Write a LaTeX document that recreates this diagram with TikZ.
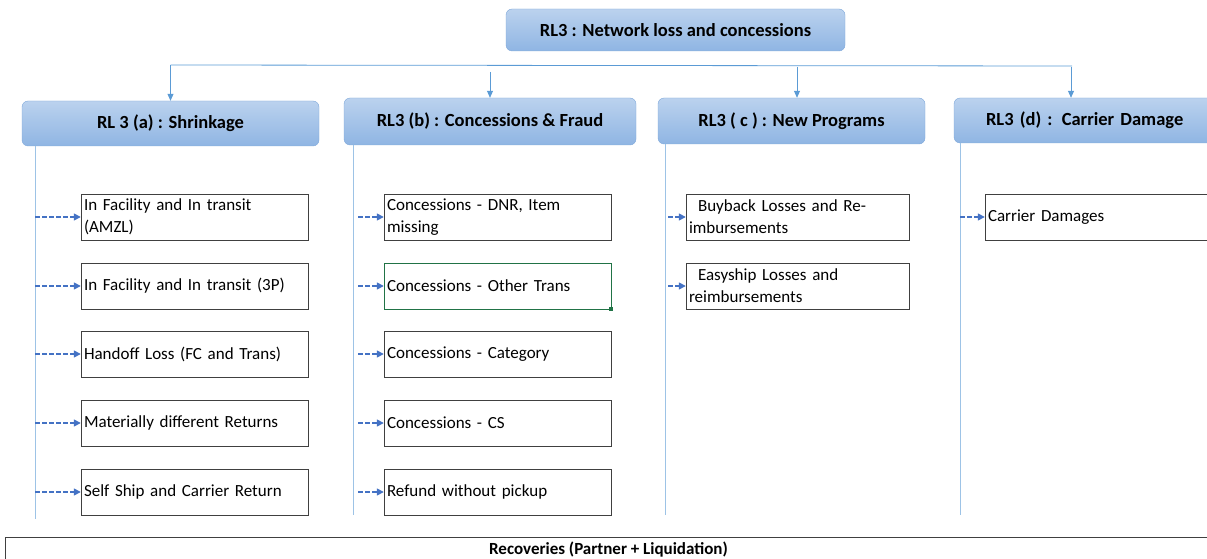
\documentclass[tikz,border=0pt]{standalone}
\usepackage{fontspec}
\setmainfont{Carlito}
\usetikzlibrary{arrows.meta}

\definecolor{headtop}{HTML}{BBD2EE}
\definecolor{headbot}{HTML}{8FB5E3}
\definecolor{headline}{HTML}{7FA8DA}
\definecolor{feedline}{HTML}{5B9BD5}
\definecolor{spineline}{HTML}{9DC3E6}
\definecolor{subline}{HTML}{4472C4}
\definecolor{leafline}{HTML}{404040}
\definecolor{pickline}{HTML}{217346}

\tikzset{
  head/.style={draw=headline, rounded corners=6pt, top color=headtop, bottom color=headbot,
    inner sep=0pt, font=\bfseries\fontsize{18.5}{20}\selectfont},
  leaf/.style={draw=leafline, fill=white, minimum height=46pt, inner xsep=3pt, inner ysep=0pt,
    align=left, font=\fontsize{17}{22}\selectfont},
  feed/.style={draw=feedline, line width=0.8pt, -{Triangle[length=7pt,width=6pt]}},
  spine/.style={draw=spineline, line width=0.9pt},
  sub/.style={draw=subline, line width=1.5pt, dash pattern=on 4.5pt off 2.5pt, -{Triangle[length=7pt,width=7pt]}}
}

\begin{document}
\begin{tikzpicture}[x=1pt, y=-1pt]
\useasboundingbox (0,0) rectangle (1207,559);
\clip (0,0) rectangle (1207,559);

\node[head, minimum width=339pt, minimum height=42pt] (top) at (675.5,30) {RL3 : Network loss and concessions};

\node[head, minimum width=297pt, minimum height=45pt] (ha) at (170.5,123.5) {RL 3 (a) : Shrinkage};
\node[head, minimum width=292pt, minimum height=47pt] (hb) at (490,121.5) {RL3 (b) : Concessions \& Fraud};
\node[head, minimum width=267pt, minimum height=46pt] (hc) at (791.5,121) {RL3 ( c ) : New Programs};
\node[head, minimum width=270pt, minimum height=45pt, text width=256pt, align=left] (hd) at (1089,120.5) {\hspace{25pt}RL3 (d) : Carrier Damage};

% bus to the four heads
\coordinate (busL) at (170.5,65);
\coordinate (busR) at (1072,66);
\coordinate (tb) at (490,72);
\coordinate (tc) at (797,67);
\coordinate (td) at (1071,67);
\draw[feedline, line width=0.8pt] (busL) -- (busR);
\draw[feed] (busL) -- (ha.north);
\draw[feed] (tb) -- (tb |- hb.north);
\draw[feed] (tc) -- (tc |- hc.north);
\draw[feed] (td) -- (td |- hd.north);

\coordinate (sa) at (35,0);
\coordinate (sb) at (353,0);
\coordinate (sc) at (665,0);
\coordinate (sd) at (960,0);
\draw[spine] (ha.south -| sa) -- (35,519);
\draw[spine] (hb.south -| sb) -- (353,515);
\draw[spine] (hc.south -| sc) -- (665,515);
\draw[spine] (hd.south -| sd) -- (960,515);

\node[leaf, minimum width=227pt, text width=221pt] (a1) at (194.5,217) {In Facility and In transit\\(AMZL)};
\node[leaf, minimum width=227pt, text width=221pt] (a2) at (194.5,286) {In Facility and In transit (3P)};
\node[leaf, minimum width=227pt, text width=221pt] (a3) at (194.5,354) {Handoff Loss (FC and Trans)};
\node[leaf, minimum width=227pt, text width=221pt] (a4) at (194.5,423) {Materially different Returns};
\node[leaf, minimum width=227pt, text width=221pt] (a5) at (194.5,492) {Self Ship and Carrier Return};

\node[leaf, minimum width=227pt, text width=221pt] (b1) at (497.5,217) {Concessions - DNR, Item\\missing};
\node[leaf, draw=pickline, minimum width=227pt, text width=221pt] (b2) at (497.5,286) {Concessions - Other Trans};
\fill[pickline] (b2.south east) ++(-2,-2) rectangle ++(4,4);
\node[leaf, minimum width=227pt, text width=221pt] (b3) at (497.5,354) {Concessions - Category};
\node[leaf, minimum width=227pt, text width=221pt] (b4) at (497.5,423) {Concessions - CS};
\node[leaf, minimum width=227pt, text width=221pt] (b5) at (497.5,492) {Refund without pickup};

\node[leaf, minimum width=223pt, text width=217pt] (c1) at (797.5,217) {\hspace{9pt}Buyback Losses and Re-\\imbursements};
\node[leaf, minimum width=223pt, text width=217pt] (c2) at (797.5,286) {\hspace{9pt}Easyship Losses and\\reimbursements};

\node[leaf, minimum width=240pt, text width=234pt] (d1) at (1105,217) {Carrier Damages};

\draw[sub] (sa |- a1.west) -- (a1.west);
\draw[sub] (sa |- a2.west) -- (a2.west);
\draw[sub] (sa |- a3.west) -- (a3.west);
\draw[sub] (sa |- a4.west) -- (a4.west);
\draw[sub] (sa |- a5.west) -- (a5.west);
\draw[sub] (sb |- b1.west) ++(5,0) -- (b1.west);
\draw[sub] (sb |- b2.west) ++(5,0) -- (b2.west);
\draw[sub] (sb |- b3.west) ++(5,0) -- (b3.west);
\draw[sub] (sb |- b4.west) ++(5,0) -- (b4.west);
\draw[sub] (sb |- b5.west) ++(5,0) -- (b5.west);
\draw[sub] (sc |- c1.west) ++(3,0) -- (c1.west);
\draw[sub] (sc |- c2.west) ++(3,0) -- (c2.west);
\draw[sub] (sd |- d1.west) -- (d1.west);

\draw[leafline, line width=0.9pt] (5,600) -- (5,537) -- (1230,537);
\node[font=\bfseries\fontsize{17}{18}\selectfont] (rec) at (608.5,549.5) {Recoveries (Partner + Liquidation)};
\end{tikzpicture}
\end{document}
